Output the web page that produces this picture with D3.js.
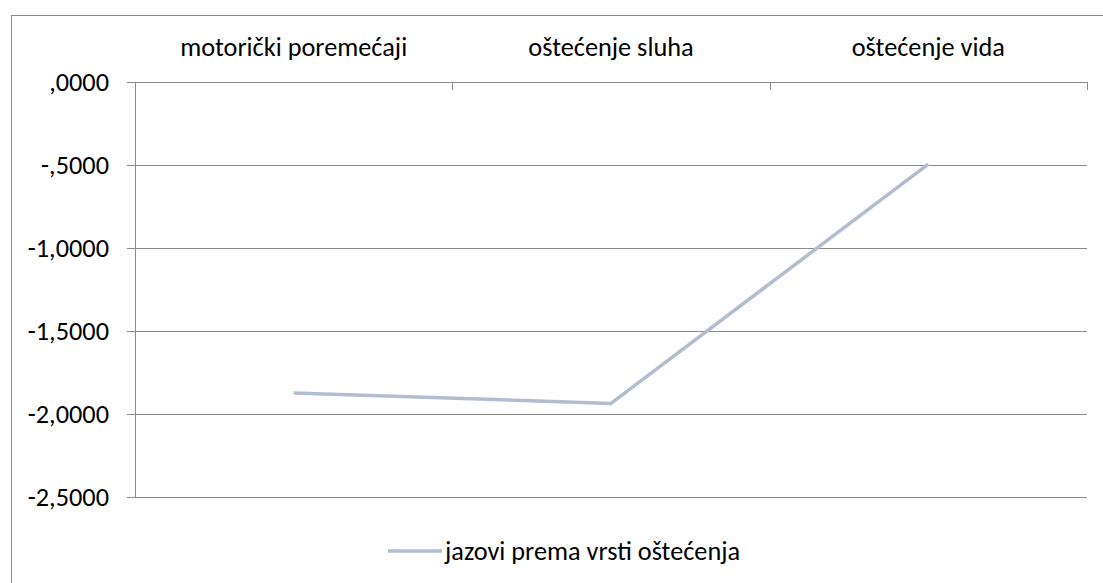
<!DOCTYPE html>
<html>
<head>
<meta charset="utf-8">
<script src="https://cdn.jsdelivr.net/npm/d3@7"></script>
<style>
    html, body { margin: 0; padding: 0; background: #fff; }
    svg { display: block; }
    text { font-family: Carlito, "Open Sans", Lato, sans-serif; fill: #000; }
</style>
</head>
<body>
<div id="chart"></div>
<script>
// Data
const categories = ['motorički poremećaji', 'oštećenje sluha', 'oštećenje vida'];
const gapValues = [-1.873, -1.936, -0.495];
const yTicks = [0, -0.5, -1, -1.5, -2, -2.5];
const seriesName = 'jazovi prema vrsti oštećenja';

const width = 1103;
const height = 583;
const plot = { left: 135, right: 1087, top: 82, bottom: 497 };
const lineColor = '#b2bdd0';
const gridColor = '#8c8c8c';
const fontSize = '26.3px';

const svg = d3.select('#chart')
    .append('svg')
    .attr('width', width)
    .attr('height', height);

// Outer chart frame (right and bottom edges fall outside the picture)
svg.append('rect')
    .attr('x', 11.5)
    .attr('y', 15.5)
    .attr('width', 1200)
    .attr('height', 700)
    .attr('fill', 'none')
    .attr('stroke', '#8c8c8c')
    .attr('stroke-width', 1);

const x = d3.scaleBand()
    .domain(categories)
    .range([plot.left, plot.right])
    .paddingInner(0)
    .paddingOuter(0);

const y = d3.scaleLinear()
    .domain([0, -2.5])
    .range([plot.top, plot.bottom]);

// Horizontal gridlines, extended left as outer tick marks
const grid = svg.append('g');
grid.selectAll('line')
    .data(yTicks)
    .enter()
    .append('line')
    .attr('x1', plot.left - 8)
    .attr('x2', plot.right)
    .attr('y1', d => Math.round(y(d)) + 0.5)
    .attr('y2', d => Math.round(y(d)) + 0.5)
    .attr('stroke', gridColor)
    .attr('stroke-width', 1);

// Y axis labels (comma decimal, no leading zero for 0)
const fmt = d => {
    let s = Math.abs(d).toFixed(4).replace('.', ',');
    if (s.startsWith('0')) s = s.slice(1);
    return (d < 0 ? '-' : '') + s;
};

grid.selectAll('text')
    .data(yTicks)
    .enter()
    .append('text')
    .attr('x', 109)
    .attr('y', d => y(d))
    .attr('dy', '0.35em')
    .attr('text-anchor', 'end')
    .style('font-size', fontSize)
    .text(fmt);

// Left axis line
svg.append('line')
    .attr('x1', plot.left + 0.5)
    .attr('x2', plot.left + 0.5)
    .attr('y1', plot.top)
    .attr('y2', Math.round(y(-2.5)) + 1)
    .attr('stroke', gridColor);

// Category axis across the top, ticks pointing down
const bounds = categories.map(c => x(c)).concat([plot.right]);
svg.append('g').selectAll('line')
    .data(bounds.slice(1))
    .enter()
    .append('line')
    .attr('x1', d => Math.round(d) + 0.5)
    .attr('x2', d => Math.round(d) + 0.5)
    .attr('y1', plot.top)
    .attr('y2', plot.top + 8)
    .attr('stroke', gridColor);

svg.append('g').selectAll('text')
    .data(categories)
    .enter()
    .append('text')
    .attr('x', d => x(d) + x.bandwidth() / 2)
    .attr('y', 47)
    .attr('dy', '0.35em')
    .attr('text-anchor', 'middle')
    .style('font-size', fontSize)
    .text(d => d);

// Series line
const line = d3.line()
    .x((d, i) => x(categories[i]) + x.bandwidth() / 2)
    .y(d => y(d));

svg.append('path')
    .datum(gapValues)
    .attr('d', line)
    .attr('fill', 'none')
    .attr('stroke', lineColor)
    .attr('stroke-width', 3.5)
    .attr('stroke-linejoin', 'round');

// Legend
const legend = svg.append('g').attr('transform', 'translate(388, 551)');
legend.append('line')
    .attr('x1', 0)
    .attr('x2', 54)
    .attr('y1', 0)
    .attr('y2', 0)
    .attr('stroke', lineColor)
    .attr('stroke-width', 3.5);
legend.append('text')
    .attr('x', 57)
    .attr('y', 0)
    .attr('dy', '0.35em')
    .style('font-size', fontSize)
    .text(seriesName);
</script>
</body>
</html>
